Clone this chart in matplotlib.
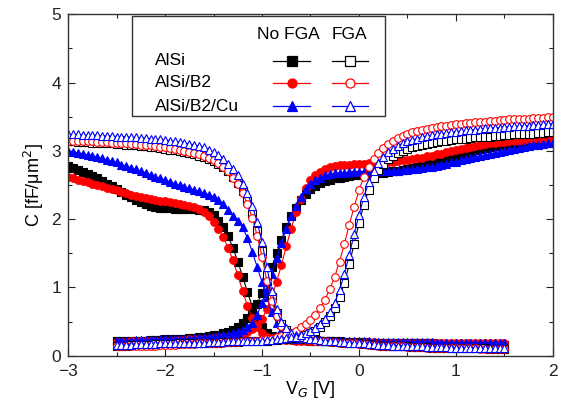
import numpy as np
import matplotlib.pyplot as plt
from matplotlib.patches import Rectangle
from matplotlib.ticker import MultipleLocator

plt.rcParams['font.family'] = ['Liberation Sans', 'DejaVu Sans']

# gate voltage grids (0.05 V steps): reverse sweep 1.5 -> -3, forward sweep -2.5 -> 2
v_rev = np.round(np.arange(-3.0, 1.5001, 0.05), 2)
v_fwd = np.round(np.arange(-2.5, 2.0001, 0.05), 2)

# ---- AlSi, no FGA (filled squares)
alsi_nf_rev = [2.78, 2.75, 2.72, 2.69, 2.66, 2.63, 2.60, 2.56, 2.52, 2.48,
               2.44, 2.40, 2.36, 2.32, 2.28, 2.25, 2.22, 2.20, 2.18, 2.17,
               2.16, 2.16, 2.15, 2.15, 2.15, 2.15, 2.15, 2.14, 2.14, 2.11,
               2.06, 1.98, 1.88, 1.75, 1.58, 1.38, 1.16, 0.93, 0.72, 0.54,
               0.42, 0.34, 0.29, 0.27, 0.25, 0.24, 0.24, 0.23, 0.23, 0.23,
               0.22, 0.22, 0.22, 0.21, 0.21, 0.21, 0.21, 0.20, 0.20, 0.20,
               0.20, 0.20, 0.19, 0.19, 0.19, 0.19, 0.19, 0.19, 0.18, 0.18,
               0.18, 0.18, 0.18, 0.18, 0.18, 0.18, 0.17, 0.17, 0.17, 0.17,
               0.17, 0.17, 0.17, 0.17, 0.17, 0.17, 0.17, 0.17, 0.16, 0.16,
               0.16]
alsi_nf_fwd = [0.21, 0.21, 0.21, 0.22, 0.22, 0.22, 0.22, 0.23, 0.23, 0.23,
               0.24, 0.24, 0.24, 0.25, 0.25, 0.26, 0.26, 0.27, 0.28, 0.29,
               0.30, 0.31, 0.33, 0.35, 0.38, 0.42, 0.48, 0.55, 0.64, 0.76,
               0.92, 1.10, 1.30, 1.50, 1.70, 1.88, 2.04, 2.17, 2.28, 2.37,
               2.44, 2.49, 2.53, 2.56, 2.58, 2.60, 2.61, 2.62, 2.63, 2.64,
               2.64, 2.65, 2.66, 2.66, 2.67, 2.68, 2.69, 2.70, 2.71, 2.72,
               2.74, 2.75, 2.77, 2.79, 2.81, 2.83, 2.85, 2.87, 2.89, 2.91,
               2.93, 2.95, 2.97, 2.99, 3.01, 3.03, 3.04, 3.06, 3.07, 3.08,
               3.09, 3.10, 3.11, 3.12, 3.13, 3.13, 3.14, 3.14, 3.15, 3.15,
               3.16]

# ---- AlSi/B2, no FGA (filled circles)
b2_nf_rev = [2.62, 2.60, 2.58, 2.56, 2.54, 2.52, 2.50, 2.48, 2.46, 2.44,
             2.42, 2.40, 2.38, 2.36, 2.34, 2.32, 2.31, 2.29, 2.28, 2.27,
             2.26, 2.25, 2.23, 2.22, 2.21, 2.19, 2.18, 2.15, 2.11, 2.05,
             1.96, 1.86, 1.74, 1.58, 1.40, 1.18, 0.95, 0.73, 0.55, 0.42,
             0.33, 0.28, 0.26, 0.25, 0.24, 0.23, 0.23, 0.22, 0.22, 0.22,
             0.22, 0.21, 0.21, 0.21, 0.21, 0.21, 0.20, 0.20, 0.20, 0.20,
             0.20, 0.20, 0.20, 0.20, 0.19, 0.19, 0.19, 0.19, 0.19, 0.19,
             0.19, 0.19, 0.19, 0.19, 0.19, 0.19, 0.19, 0.19, 0.19, 0.19,
             0.18, 0.18, 0.18, 0.18, 0.18, 0.18, 0.18, 0.18, 0.18, 0.18,
             0.18]
b2_nf_fwd = [0.20, 0.20, 0.20, 0.21, 0.21, 0.21, 0.21, 0.21, 0.22, 0.22,
             0.22, 0.22, 0.23, 0.23, 0.23, 0.24, 0.24, 0.24, 0.25, 0.25,
             0.26, 0.26, 0.27, 0.28, 0.29, 0.30, 0.32, 0.35, 0.39, 0.45,
             0.54, 0.68, 0.86, 1.08, 1.33, 1.60, 1.86, 2.10, 2.30, 2.46,
             2.57, 2.64, 2.69, 2.73, 2.76, 2.78, 2.79, 2.80, 2.80, 2.81,
             2.81, 2.81, 2.82, 2.82, 2.82, 2.83, 2.83, 2.84, 2.85, 2.86,
             2.87, 2.88, 2.89, 2.90, 2.92, 2.93, 2.95, 2.96, 2.98, 3.00,
             3.01, 3.03, 3.04, 3.06, 3.07, 3.08, 3.10, 3.11, 3.12, 3.13,
             3.13, 3.14, 3.15, 3.15, 3.16, 3.16, 3.17, 3.17, 3.17, 3.18,
             3.18]

# ---- AlSi/B2/Cu, no FGA (filled triangles)
cu_nf_rev = [3.00, 2.99, 2.97, 2.96, 2.94, 2.93, 2.91, 2.89, 2.87, 2.85,
             2.83, 2.80, 2.78, 2.75, 2.73, 2.70, 2.68, 2.65, 2.62, 2.60,
             2.57, 2.55, 2.52, 2.50, 2.47, 2.45, 2.43, 2.41, 2.38, 2.36,
             2.33, 2.28, 2.22, 2.14, 2.05, 1.97, 1.88, 1.72, 1.52, 1.30,
             1.08, 0.86, 0.64, 0.48, 0.38, 0.31, 0.27, 0.25, 0.24, 0.24,
             0.24, 0.23, 0.23, 0.22, 0.22, 0.22, 0.21, 0.21, 0.21, 0.21,
             0.21, 0.21, 0.21, 0.20, 0.20, 0.20, 0.20, 0.20, 0.20, 0.20,
             0.20, 0.20, 0.20, 0.20, 0.20, 0.20, 0.19, 0.19, 0.19, 0.19,
             0.19, 0.19, 0.19, 0.19, 0.19, 0.19, 0.19, 0.19, 0.19, 0.19,
             0.19]
cu_nf_fwd = [0.22, 0.22, 0.22, 0.22, 0.23, 0.23, 0.23, 0.23, 0.23, 0.24,
             0.24, 0.24, 0.24, 0.25, 0.25, 0.25, 0.26, 0.26, 0.27, 0.27,
             0.28, 0.29, 0.30, 0.31, 0.33, 0.35, 0.38, 0.42, 0.48, 0.60,
             0.78, 0.98, 1.20, 1.43, 1.65, 1.86, 2.04, 2.20, 2.33, 2.44,
             2.51, 2.57, 2.61, 2.64, 2.66, 2.67, 2.68, 2.68, 2.69, 2.69,
             2.69, 2.69, 2.70, 2.70, 2.70, 2.70, 2.71, 2.71, 2.71, 2.72,
             2.72, 2.73, 2.74, 2.75, 2.76, 2.77, 2.78, 2.80, 2.81, 2.83,
             2.84, 2.86, 2.88, 2.89, 2.91, 2.93, 2.94, 2.96, 2.97, 2.99,
             3.00, 3.02, 3.03, 3.04, 3.05, 3.07, 3.08, 3.09, 3.10, 3.11,
             3.12]

# ---- AlSi, FGA (open squares)
alsi_f_rev = [3.14, 3.14, 3.13, 3.13, 3.13, 3.12, 3.12, 3.12, 3.11, 3.11,
              3.10, 3.10, 3.09, 3.09, 3.08, 3.07, 3.07, 3.06, 3.05, 3.04,
              3.03, 3.02, 3.01, 3.00, 2.98, 2.97, 2.95, 2.93, 2.91, 2.88,
              2.85, 2.81, 2.76, 2.70, 2.62, 2.53, 2.41, 2.26, 2.07, 1.83,
              1.53, 1.18, 0.86, 0.62, 0.47, 0.38, 0.32, 0.29, 0.27, 0.25,
              0.24, 0.23, 0.22, 0.21, 0.21, 0.20, 0.20, 0.19, 0.19, 0.18,
              0.18, 0.17, 0.17, 0.16, 0.16, 0.15, 0.15, 0.15, 0.14, 0.14,
              0.14, 0.13, 0.13, 0.13, 0.13, 0.12, 0.12, 0.12, 0.12, 0.12,
              0.11, 0.11, 0.11, 0.11, 0.11, 0.11, 0.11, 0.10, 0.10, 0.10,
              0.10]
alsi_f_fwd = [0.15, 0.15, 0.15, 0.16, 0.16, 0.16, 0.16, 0.16, 0.17, 0.17,
              0.17, 0.17, 0.17, 0.18, 0.18, 0.18, 0.18, 0.18, 0.19, 0.19,
              0.19, 0.19, 0.20, 0.20, 0.20, 0.20, 0.21, 0.21, 0.21, 0.21,
              0.22, 0.22, 0.23, 0.23, 0.24, 0.25, 0.26, 0.27, 0.29, 0.31,
              0.34, 0.37, 0.42, 0.49, 0.58, 0.70, 0.86, 1.07, 1.34, 1.64,
              1.94, 2.21, 2.43, 2.60, 2.72, 2.81, 2.88, 2.93, 2.97, 3.00,
              3.03, 3.05, 3.07, 3.09, 3.10, 3.12, 3.13, 3.14, 3.15, 3.16,
              3.17, 3.18, 3.18, 3.19, 3.20, 3.20, 3.21, 3.21, 3.22, 3.22,
              3.23, 3.23, 3.24, 3.24, 3.25, 3.25, 3.25, 3.26, 3.26, 3.27,
              3.27]

# ---- AlSi/B2, FGA (open circles)
b2_f_rev = [3.15, 3.15, 3.15, 3.14, 3.14, 3.14, 3.13, 3.13, 3.13, 3.12,
            3.12, 3.11, 3.11, 3.10, 3.10, 3.09, 3.08, 3.08, 3.07, 3.06,
            3.05, 3.04, 3.03, 3.02, 3.00, 2.99, 2.97, 2.95, 2.93, 2.90,
            2.86, 2.82, 2.77, 2.70, 2.61, 2.51, 2.38, 2.22, 2.02, 1.76,
            1.45, 1.10, 0.80, 0.58, 0.44, 0.36, 0.31, 0.28, 0.26, 0.24,
            0.23, 0.22, 0.22, 0.21, 0.20, 0.20, 0.19, 0.19, 0.18, 0.18,
            0.17, 0.17, 0.16, 0.16, 0.15, 0.15, 0.15, 0.14, 0.14, 0.14,
            0.13, 0.13, 0.13, 0.13, 0.12, 0.12, 0.12, 0.12, 0.12, 0.11,
            0.11, 0.11, 0.11, 0.11, 0.11, 0.10, 0.10, 0.10, 0.10, 0.10,
            0.10]
b2_f_fwd = [0.14, 0.14, 0.14, 0.14, 0.15, 0.15, 0.15, 0.15, 0.15, 0.16,
            0.16, 0.16, 0.16, 0.17, 0.17, 0.17, 0.17, 0.18, 0.18, 0.18,
            0.19, 0.19, 0.19, 0.20, 0.20, 0.20, 0.21, 0.21, 0.22, 0.22,
            0.23, 0.24, 0.25, 0.27, 0.29, 0.31, 0.34, 0.37, 0.42, 0.47,
            0.53, 0.60, 0.70, 0.82, 0.98, 1.16, 1.38, 1.64, 1.92, 2.18,
            2.42, 2.62, 2.77, 2.88, 2.97, 3.04, 3.10, 3.15, 3.19, 3.22,
            3.25, 3.27, 3.29, 3.31, 3.32, 3.34, 3.35, 3.36, 3.37, 3.38,
            3.39, 3.40, 3.41, 3.41, 3.42, 3.43, 3.43, 3.44, 3.44, 3.45,
            3.45, 3.46, 3.46, 3.47, 3.47, 3.47, 3.48, 3.48, 3.48, 3.49,
            3.49]

# ---- AlSi/B2/Cu, FGA (open triangles)
cu_f_rev = [3.24, 3.24, 3.24, 3.23, 3.23, 3.23, 3.23, 3.22, 3.22, 3.22,
            3.21, 3.21, 3.21, 3.20, 3.20, 3.19, 3.19, 3.18, 3.17, 3.17,
            3.16, 3.15, 3.14, 3.13, 3.12, 3.10, 3.09, 3.07, 3.05, 3.02,
            2.98, 2.94, 2.88, 2.81, 2.73, 2.64, 2.52, 2.38, 2.20, 1.96,
            1.66, 1.30, 0.95, 0.68, 0.50, 0.40, 0.34, 0.30, 0.28, 0.26,
            0.25, 0.24, 0.23, 0.22, 0.22, 0.21, 0.20, 0.20, 0.19, 0.19,
            0.18, 0.18, 0.17, 0.17, 0.16, 0.16, 0.16, 0.15, 0.15, 0.15,
            0.14, 0.14, 0.14, 0.14, 0.13, 0.13, 0.13, 0.13, 0.13, 0.12,
            0.12, 0.12, 0.12, 0.12, 0.12, 0.11, 0.11, 0.11, 0.11, 0.11,
            0.11]
cu_f_fwd = [0.16, 0.16, 0.16, 0.16, 0.17, 0.17, 0.17, 0.17, 0.17, 0.18,
            0.18, 0.18, 0.18, 0.18, 0.19, 0.19, 0.19, 0.19, 0.19, 0.20,
            0.20, 0.20, 0.20, 0.21, 0.21, 0.21, 0.21, 0.22, 0.22, 0.22,
            0.22, 0.23, 0.23, 0.24, 0.25, 0.26, 0.27, 0.28, 0.30, 0.33,
            0.36, 0.40, 0.46, 0.54, 0.64, 0.78, 0.96, 1.20, 1.48, 1.78,
            2.06, 2.32, 2.54, 2.70, 2.82, 2.91, 2.98, 3.03, 3.07, 3.11,
            3.14, 3.16, 3.18, 3.20, 3.22, 3.23, 3.24, 3.25, 3.26, 3.27,
            3.28, 3.29, 3.30, 3.31, 3.31, 3.32, 3.33, 3.33, 3.34, 3.34,
            3.35, 3.35, 3.36, 3.36, 3.37, 3.37, 3.38, 3.38, 3.39, 3.39,
            3.40]

samples = ['AlSi', 'AlSi/B2', 'AlSi/B2/Cu']
colors = ['#000000', '#FF0000', '#0000FF']
markers = ['s', 'o', '^']
no_fga = [(alsi_nf_rev, alsi_nf_fwd), (b2_nf_rev, b2_nf_fwd), (cu_nf_rev, cu_nf_fwd)]
fga = [(alsi_f_rev, alsi_f_fwd), (b2_f_rev, b2_f_fwd), (cu_f_rev, cu_f_fwd)]

fig = plt.figure(figsize=(5.63, 4.08), dpi=100)
ax = fig.add_axes([0.121, 0.128, 0.861, 0.837])

ms = 5.5
for group, filled in [(no_fga, True), (fga, False)]:
    for (rev, fwd), c, m in zip(group, colors, markers):
        face = c if filled else 'white'
        for xs, ys in [(v_rev, rev), (v_fwd, fwd)]:
            ax.plot(xs, ys, color=c, lw=0.8, marker=m, ms=ms,
                    mfc=face, mec=c, mew=0.8)

ax.set_xlim(-3, 2)
ax.set_ylim(0, 5)
ax.xaxis.set_major_locator(MultipleLocator(1))
ax.xaxis.set_minor_locator(MultipleLocator(0.5))
ax.yaxis.set_major_locator(MultipleLocator(1))
ax.yaxis.set_minor_locator(MultipleLocator(0.5))
ax.tick_params(which='both', direction='in', top=True, right=True,
               labelsize=12.5, colors='#222222')
ax.tick_params(which='major', length=5, width=0.8)
ax.tick_params(which='minor', length=3, width=0.8)
ax.tick_params(axis='x', pad=6)
ax.tick_params(axis='y', pad=5)
for s in ax.spines.values():
    s.set_color('#333333')
    s.set_linewidth(1.0)
ax.set_xlabel('V$_G$ [V]', fontsize=13, labelpad=0)
ax.set_ylabel('C [fF/\u03bcm$^2$]', fontsize=13, labelpad=4)

# legend table drawn in axes coordinates
T = ax.transAxes
ax.add_patch(Rectangle((0.131, 0.703), 0.523, 0.291, transform=T,
                       facecolor='white', edgecolor='#333333', lw=1.0, zorder=5))
ax.text(0.4536, 0.94, 'No FGA', transform=T, ha='center', va='center', fontsize=12.5, zorder=6)
ax.text(0.581, 0.94, 'FGA', transform=T, ha='center', va='center', fontsize=12.5, zorder=6)
rows_y = [0.864, 0.799, 0.730]
for name, c, m, y in zip(samples, colors, markers, rows_y):
    ax.text(0.179, y, name, transform=T, ha='left', va='center', fontsize=12.5, zorder=6)
    for x0, x1, xm, face in [(0.4227, 0.499, 0.462, c), (0.544, 0.619, 0.581, 'white')]:
        ax.plot([x0, x1], [y, y], color=c, lw=0.9, transform=T, zorder=6, clip_on=False)
        ax.plot([xm], [y], marker=m, ms=6.5, mfc=face, mec=c, mew=0.9,
                transform=T, zorder=7, clip_on=False, ls='none')

fig.savefig('out.png', dpi=100)
